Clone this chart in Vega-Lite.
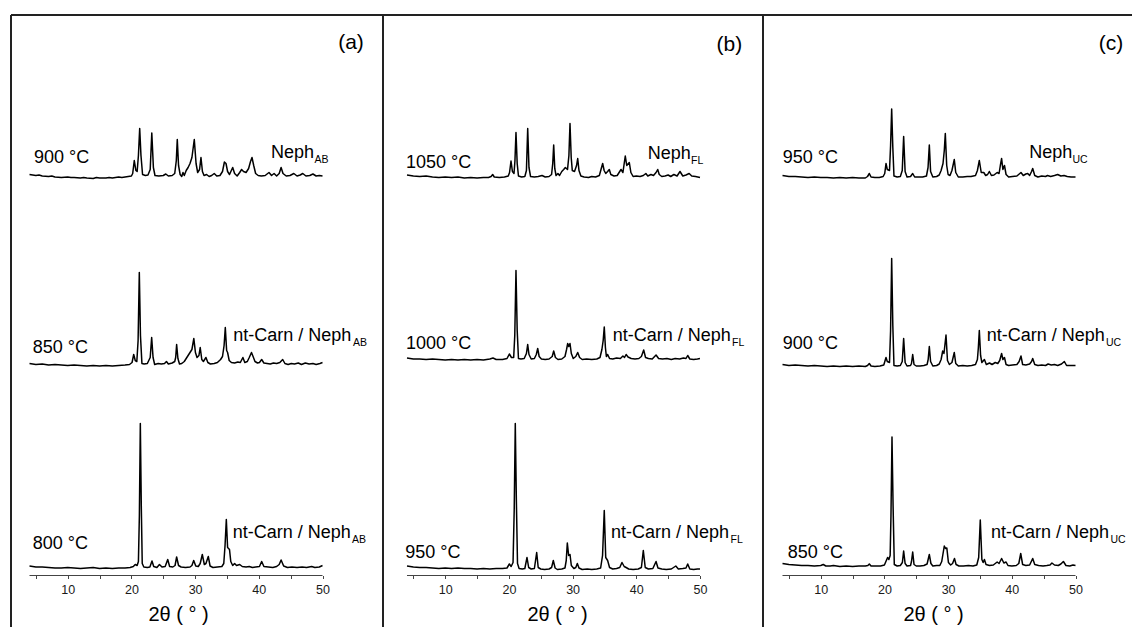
{
"$schema": "https://vega.github.io/schema/vega-lite/v6.json",
"padding": {"left": 10, "top": 14, "right": 0, "bottom": 0},
"spacing": 0,
"bounds": "flush",
"background": "white",
"config": {"view": {"stroke": null}, "font": "Liberation Sans"},
"datasets": {
"a": [
{"s":"900","t":4,"i":401},{"s":"900","t":4.5,"i":400.5},{"s":"900","t":5,"i":400},{"s":"900","t":5.5,"i":400.5},{"s":"900","t":6,"i":399.5},{"s":"900","t":7,"i":399},{"s":"900","t":7.5,"i":399.5},{"s":"900","t":8,"i":398.5},{"s":"900","t":9,"i":398},{"s":"900","t":10,"i":398.5},{"s":"900","t":10.5,"i":398},{"s":"900","t":11,"i":398},{"s":"900","t":12,"i":397.5},{"s":"900","t":12.5,"i":398},{"s":"900","t":13,"i":397.5},{"s":"900","t":14,"i":397},{"s":"900","t":14.5,"i":398},{"s":"900","t":15,"i":397.5},{"s":"900","t":16,"i":397.5},{"s":"900","t":16.5,"i":398},{"s":"900","t":17,"i":397.5},{"s":"900","t":18,"i":398.5},{"s":"900","t":18.5,"i":398},{"s":"900","t":19,"i":398.5},{"s":"900","t":19.5,"i":399},{"s":"900","t":20,"i":399.5},
{"s":"900","t":20.2,"i":402},{"s":"900","t":20.45,"i":415},{"s":"900","t":20.7,"i":405},{"s":"900","t":20.9,"i":404},{"s":"900","t":21.1,"i":420},{"s":"900","t":21.3,"i":447},{"s":"900","t":21.5,"i":420},{"s":"900","t":21.75,"i":401},{"s":"900","t":22.2,"i":400},{"s":"900","t":22.6,"i":400.5},
{"s":"900","t":22.95,"i":406},{"s":"900","t":23.2,"i":442.5},{"s":"900","t":23.45,"i":408},{"s":"900","t":23.7,"i":400},{"s":"900","t":24.3,"i":399.5},{"s":"900","t":25,"i":400},{"s":"900","t":25.4,"i":401.5},{"s":"900","t":25.8,"i":399.5},{"s":"900","t":26.4,"i":400},{"s":"900","t":26.8,"i":402},
{"s":"900","t":27.05,"i":415},{"s":"900","t":27.2,"i":436},{"s":"900","t":27.4,"i":410},{"s":"900","t":27.65,"i":401},{"s":"900","t":27.9,"i":399},{"s":"900","t":28.1,"i":403},{"s":"900","t":28.3,"i":400},{"s":"900","t":28.6,"i":405},{"s":"900","t":28.9,"i":408},{"s":"900","t":29.2,"i":412},{"s":"900","t":29.5,"i":418},{"s":"900","t":29.87,"i":436},{"s":"900","t":30.15,"i":412},{"s":"900","t":30.4,"i":403},
{"s":"900","t":30.7,"i":406},{"s":"900","t":30.92,"i":418},{"s":"900","t":31.15,"i":404},{"s":"900","t":31.4,"i":400},{"s":"900","t":31.8,"i":401},{"s":"900","t":32.2,"i":399},{"s":"900","t":32.6,"i":400},{"s":"900","t":33,"i":402},{"s":"900","t":33.4,"i":399.5},{"s":"900","t":33.9,"i":400},
{"s":"900","t":34.3,"i":404},{"s":"900","t":34.6,"i":413.5},{"s":"900","t":34.85,"i":412},{"s":"900","t":35.1,"i":404},{"s":"900","t":35.4,"i":401},{"s":"900","t":35.9,"i":408},{"s":"900","t":36.2,"i":402},{"s":"900","t":36.6,"i":399.5},{"s":"900","t":37,"i":403},{"s":"900","t":37.3,"i":406},{"s":"900","t":37.6,"i":404},{"s":"900","t":38,"i":403},{"s":"900","t":38.4,"i":407},
{"s":"900","t":38.7,"i":414},{"s":"900","t":38.93,"i":418},{"s":"900","t":39.2,"i":410},{"s":"900","t":39.5,"i":402},{"s":"900","t":39.9,"i":400},{"s":"900","t":40.4,"i":399.5},{"s":"900","t":41,"i":400},{"s":"900","t":41.6,"i":403},{"s":"900","t":42,"i":400},{"s":"900","t":42.4,"i":402},{"s":"900","t":42.8,"i":399.5},{"s":"900","t":43.2,"i":402},{"s":"900","t":43.5,"i":408},{"s":"900","t":43.8,"i":402},{"s":"900","t":44.3,"i":399.5},{"s":"900","t":44.9,"i":400},{"s":"900","t":45.5,"i":402},{"s":"900","t":46,"i":399.5},{"s":"900","t":46.5,"i":400.5},{"s":"900","t":46.9,"i":402},{"s":"900","t":47.4,"i":399.5},{"s":"900","t":48,"i":400},{"s":"900","t":48.5,"i":401.5},{"s":"900","t":49,"i":399.5},{"s":"900","t":49.5,"i":400},{"s":"900","t":50,"i":399.5},
{"s":"850","t":4,"i":212},{"s":"850","t":4.5,"i":211.5},{"s":"850","t":5,"i":211},{"s":"850","t":6,"i":211.5},{"s":"850","t":7,"i":210.5},{"s":"850","t":8,"i":211},{"s":"850","t":9,"i":210.5},{"s":"850","t":10,"i":210},{"s":"850","t":11,"i":210.5},{"s":"850","t":12,"i":210},{"s":"850","t":13,"i":209.5},{"s":"850","t":14,"i":210},{"s":"850","t":15,"i":209.5},{"s":"850","t":16,"i":210},{"s":"850","t":17,"i":209.5},{"s":"850","t":18,"i":210},{"s":"850","t":19,"i":210.5},{"s":"850","t":19.7,"i":211},{"s":"850","t":20.1,"i":213},
{"s":"850","t":20.36,"i":221},{"s":"850","t":20.6,"i":215},{"s":"850","t":20.85,"i":214},{"s":"850","t":21.05,"i":235},{"s":"850","t":21.24,"i":303},{"s":"850","t":21.42,"i":240},{"s":"850","t":21.65,"i":212},{"s":"850","t":22,"i":211.5},{"s":"850","t":22.5,"i":212},
{"s":"850","t":22.95,"i":218},{"s":"850","t":23.18,"i":238},{"s":"850","t":23.4,"i":218},{"s":"850","t":23.65,"i":211},{"s":"850","t":24.2,"i":212},{"s":"850","t":24.7,"i":211.5},{"s":"850","t":25.2,"i":212},{"s":"850","t":25.5,"i":214},{"s":"850","t":25.8,"i":211.5},{"s":"850","t":26.4,"i":212.5},{"s":"850","t":26.8,"i":214},
{"s":"850","t":26.95,"i":218},{"s":"850","t":27.1,"i":231},{"s":"850","t":27.3,"i":217},{"s":"850","t":27.55,"i":211.5},{"s":"850","t":27.9,"i":212},{"s":"850","t":28.3,"i":214},{"s":"850","t":28.6,"i":217},{"s":"850","t":28.9,"i":220},{"s":"850","t":29.2,"i":223},{"s":"850","t":29.5,"i":226},
{"s":"850","t":29.8,"i":237},{"s":"850","t":30.05,"i":223},{"s":"850","t":30.3,"i":218},{"s":"850","t":30.6,"i":220},{"s":"850","t":30.8,"i":228},{"s":"850","t":31.05,"i":216},{"s":"850","t":31.3,"i":214},{"s":"850","t":31.7,"i":218},{"s":"850","t":32,"i":213},{"s":"850","t":32.4,"i":211.5},{"s":"850","t":33,"i":212},{"s":"850","t":33.5,"i":213},{"s":"850","t":34,"i":216},{"s":"850","t":34.3,"i":219},
{"s":"850","t":34.55,"i":230},{"s":"850","t":34.74,"i":248},{"s":"850","t":34.95,"i":225},{"s":"850","t":35.1,"i":223},{"s":"850","t":35.35,"i":215},{"s":"850","t":35.7,"i":213},{"s":"850","t":36.2,"i":212.5},{"s":"850","t":36.7,"i":213.5},{"s":"850","t":37.1,"i":213},{"s":"850","t":37.5,"i":218},{"s":"850","t":37.8,"i":213},{"s":"850","t":38.2,"i":214},{"s":"850","t":38.5,"i":218},
{"s":"850","t":38.85,"i":223},{"s":"850","t":39.1,"i":219},{"s":"850","t":39.4,"i":214},{"s":"850","t":39.8,"i":212.5},{"s":"850","t":40.1,"i":213},{"s":"850","t":40.45,"i":216},{"s":"850","t":40.8,"i":212.5},{"s":"850","t":41.3,"i":212},{"s":"850","t":41.8,"i":211.5},{"s":"850","t":42.3,"i":212.5},{"s":"850","t":42.8,"i":212},{"s":"850","t":43.3,"i":213},{"s":"850","t":43.75,"i":216},{"s":"850","t":44.1,"i":212},{"s":"850","t":44.6,"i":211},{"s":"850","t":45.1,"i":212},{"s":"850","t":45.6,"i":211.5},{"s":"850","t":46.2,"i":212.5},{"s":"850","t":46.7,"i":211},{"s":"850","t":47.3,"i":212.5},{"s":"850","t":47.9,"i":211.5},{"s":"850","t":48.5,"i":212},{"s":"850","t":49,"i":211},{"s":"850","t":49.6,"i":212},{"s":"850","t":50,"i":213},
{"s":"800","t":4,"i":9.5},{"s":"800","t":4.5,"i":9},{"s":"800","t":5,"i":8.5},{"s":"800","t":6,"i":8.5},{"s":"800","t":7,"i":8},{"s":"800","t":8,"i":7.5},{"s":"800","t":9,"i":7.5},{"s":"800","t":10,"i":8},{"s":"800","t":11,"i":7.5},{"s":"800","t":12,"i":7},{"s":"800","t":13,"i":7.5},{"s":"800","t":14,"i":8},{"s":"800","t":15,"i":7},{"s":"800","t":16,"i":7.5},{"s":"800","t":17,"i":7},{"s":"800","t":18,"i":7.5},{"s":"800","t":19,"i":7.5},{"s":"800","t":19.8,"i":8},{"s":"800","t":20.3,"i":9},{"s":"800","t":20.6,"i":11},{"s":"800","t":20.9,"i":10},
{"s":"800","t":21.1,"i":14},{"s":"800","t":21.25,"i":60},{"s":"800","t":21.4,"i":152},{"s":"800","t":21.55,"i":70},{"s":"800","t":21.7,"i":12},{"s":"800","t":21.95,"i":8.5},{"s":"800","t":22.5,"i":8},{"s":"800","t":22.9,"i":8.5},{"s":"800","t":23.23,"i":14.5},{"s":"800","t":23.5,"i":9},{"s":"800","t":24,"i":8},{"s":"800","t":24.4,"i":11},{"s":"800","t":24.8,"i":8.5},{"s":"800","t":25.3,"i":9},{"s":"800","t":25.7,"i":16},{"s":"800","t":26,"i":9},{"s":"800","t":26.5,"i":8.5},{"s":"800","t":26.85,"i":10},{"s":"800","t":27.1,"i":18.5},{"s":"800","t":27.4,"i":10},{"s":"800","t":27.8,"i":8.5},{"s":"800","t":28.5,"i":8},{"s":"800","t":29.2,"i":8.5},{"s":"800","t":29.5,"i":10},{"s":"800","t":29.78,"i":15},{"s":"800","t":30.1,"i":9.5},{"s":"800","t":30.5,"i":9},{"s":"800","t":30.8,"i":12},{"s":"800","t":31.13,"i":21},{"s":"800","t":31.45,"i":11},{"s":"800","t":31.7,"i":12},{"s":"800","t":32.07,"i":19},{"s":"800","t":32.35,"i":9.5},{"s":"800","t":32.8,"i":8},{"s":"800","t":33.5,"i":8.5},{"s":"800","t":34.2,"i":9},{"s":"800","t":34.5,"i":12},
{"s":"800","t":34.7,"i":30},{"s":"800","t":34.9,"i":56},{"s":"800","t":35.1,"i":28},{"s":"800","t":35.4,"i":26},{"s":"800","t":35.6,"i":14},{"s":"800","t":35.9,"i":10},{"s":"800","t":36.2,"i":12},{"s":"800","t":36.5,"i":10},{"s":"800","t":37,"i":11},{"s":"800","t":37.4,"i":9},{"s":"800","t":38,"i":8.5},{"s":"800","t":38.5,"i":9},{"s":"800","t":39,"i":8},{"s":"800","t":39.5,"i":8.5},{"s":"800","t":40.1,"i":9},{"s":"800","t":40.45,"i":14},{"s":"800","t":40.8,"i":9},{"s":"800","t":41.5,"i":8.5},{"s":"800","t":42.2,"i":8},{"s":"800","t":42.8,"i":9},{"s":"800","t":43.2,"i":11},{"s":"800","t":43.5,"i":15.5},{"s":"800","t":43.9,"i":9.5},{"s":"800","t":44.5,"i":8},{"s":"800","t":45.2,"i":8.5},{"s":"800","t":46,"i":8},{"s":"800","t":46.8,"i":8.5},{"s":"800","t":47.5,"i":8},{"s":"800","t":48.3,"i":9},{"s":"800","t":48.8,"i":8},{"s":"800","t":49.5,"i":8.5},{"s":"800","t":50,"i":10}
],
"b": [
{"s":"1050","t":4,"i":400.5},{"s":"1050","t":4.5,"i":400},{"s":"1050","t":5,"i":399.5},{"s":"1050","t":6,"i":399},{"s":"1050","t":7,"i":399.5},{"s":"1050","t":8,"i":398.5},{"s":"1050","t":9,"i":398},{"s":"1050","t":10,"i":398.5},{"s":"1050","t":11,"i":398},{"s":"1050","t":12,"i":398.5},{"s":"1050","t":13,"i":397.5},{"s":"1050","t":14,"i":398},{"s":"1050","t":15,"i":397.5},{"s":"1050","t":16,"i":398},{"s":"1050","t":16.8,"i":398},{"s":"1050","t":17.2,"i":399},{"s":"1050","t":17.45,"i":401},{"s":"1050","t":17.7,"i":398.5},{"s":"1050","t":18.5,"i":398},{"s":"1050","t":19.3,"i":398.5},{"s":"1050","t":19.9,"i":399.5},
{"s":"1050","t":20.1,"i":403},{"s":"1050","t":20.33,"i":414.5},{"s":"1050","t":20.55,"i":404},{"s":"1050","t":20.8,"i":402},{"s":"1050","t":20.95,"i":415},{"s":"1050","t":21.11,"i":443},{"s":"1050","t":21.3,"i":412},{"s":"1050","t":21.5,"i":399.5},{"s":"1050","t":22,"i":398.5},{"s":"1050","t":22.5,"i":399},
{"s":"1050","t":22.75,"i":405},{"s":"1050","t":22.95,"i":447},{"s":"1050","t":23.15,"i":408},{"s":"1050","t":23.4,"i":399},{"s":"1050","t":24,"i":398.5},{"s":"1050","t":24.6,"i":399},{"s":"1050","t":25.2,"i":400},{"s":"1050","t":25.7,"i":398.5},{"s":"1050","t":26.3,"i":399},{"s":"1050","t":26.7,"i":401},
{"s":"1050","t":26.88,"i":412},{"s":"1050","t":27.03,"i":430.5},{"s":"1050","t":27.2,"i":407},{"s":"1050","t":27.4,"i":400},{"s":"1050","t":27.7,"i":402},{"s":"1050","t":27.95,"i":400},{"s":"1050","t":28.3,"i":404},{"s":"1050","t":28.6,"i":406},{"s":"1050","t":28.86,"i":408},
{"s":"1050","t":29.2,"i":406},{"s":"1050","t":29.42,"i":420},{"s":"1050","t":29.59,"i":452},{"s":"1050","t":29.78,"i":418},{"s":"1050","t":29.95,"i":405},{"s":"1050","t":30.3,"i":404},{"s":"1050","t":30.62,"i":410},{"s":"1050","t":30.8,"i":417},{"s":"1050","t":31,"i":405},{"s":"1050","t":31.3,"i":399.5},{"s":"1050","t":31.8,"i":398.5},{"s":"1050","t":32.5,"i":398},{"s":"1050","t":33,"i":399},{"s":"1050","t":33.6,"i":398.5},{"s":"1050","t":34.2,"i":400},
{"s":"1050","t":34.5,"i":407},{"s":"1050","t":34.72,"i":412},{"s":"1050","t":34.95,"i":405},{"s":"1050","t":35.2,"i":402},{"s":"1050","t":35.5,"i":404},{"s":"1050","t":35.76,"i":406},{"s":"1050","t":36,"i":401},{"s":"1050","t":36.5,"i":399.5},{"s":"1050","t":37,"i":400},{"s":"1050","t":37.3,"i":403},{"s":"1050","t":37.6,"i":406},{"s":"1050","t":37.9,"i":403},
{"s":"1050","t":38.1,"i":412},{"s":"1050","t":38.27,"i":419.5},{"s":"1050","t":38.5,"i":410},{"s":"1050","t":38.9,"i":413},{"s":"1050","t":39.15,"i":403},{"s":"1050","t":39.5,"i":399},{"s":"1050","t":40,"i":399.5},{"s":"1050","t":40.6,"i":399},{"s":"1050","t":41.1,"i":400},{"s":"1050","t":41.5,"i":402},{"s":"1050","t":41.8,"i":399.5},{"s":"1050","t":42.3,"i":401},{"s":"1050","t":42.7,"i":400},{"s":"1050","t":43.1,"i":403},{"s":"1050","t":43.36,"i":406},{"s":"1050","t":43.6,"i":401},{"s":"1050","t":44,"i":399},{"s":"1050","t":44.5,"i":399.5},{"s":"1050","t":45,"i":400.5},{"s":"1050","t":45.4,"i":399},{"s":"1050","t":45.9,"i":401},{"s":"1050","t":46.4,"i":399.5},{"s":"1050","t":46.86,"i":404},{"s":"1050","t":47.3,"i":399.5},{"s":"1050","t":47.8,"i":400.5},{"s":"1050","t":48.3,"i":402},{"s":"1050","t":48.7,"i":399.5},{"s":"1050","t":49.3,"i":399},{"s":"1050","t":50,"i":398},
{"s":"1000","t":4,"i":217.5},{"s":"1000","t":4.5,"i":217},{"s":"1000","t":5,"i":216.5},{"s":"1000","t":6,"i":216.5},{"s":"1000","t":7,"i":216},{"s":"1000","t":8,"i":216.5},{"s":"1000","t":9,"i":216},{"s":"1000","t":10,"i":215.5},{"s":"1000","t":11,"i":216},{"s":"1000","t":12,"i":215.5},{"s":"1000","t":13,"i":216},{"s":"1000","t":14,"i":215.5},{"s":"1000","t":15,"i":216},{"s":"1000","t":16,"i":215.5},{"s":"1000","t":17,"i":216.5},{"s":"1000","t":17.5,"i":217.5},{"s":"1000","t":18,"i":216},{"s":"1000","t":19,"i":216},{"s":"1000","t":19.7,"i":217},
{"s":"1000","t":20.07,"i":221.5},{"s":"1000","t":20.4,"i":218},{"s":"1000","t":20.75,"i":218},{"s":"1000","t":20.92,"i":240},{"s":"1000","t":21.11,"i":305},{"s":"1000","t":21.3,"i":245},{"s":"1000","t":21.5,"i":217},{"s":"1000","t":21.9,"i":216.5},{"s":"1000","t":22.4,"i":217},
{"s":"1000","t":22.75,"i":222},{"s":"1000","t":22.95,"i":231},{"s":"1000","t":23.15,"i":221},{"s":"1000","t":23.5,"i":216.5},{"s":"1000","t":24,"i":217},{"s":"1000","t":24.3,"i":221},{"s":"1000","t":24.52,"i":227},{"s":"1000","t":24.75,"i":219},{"s":"1000","t":25.1,"i":216.5},{"s":"1000","t":25.7,"i":216},{"s":"1000","t":26.3,"i":216.5},{"s":"1000","t":26.8,"i":219},{"s":"1000","t":27.03,"i":224.5},{"s":"1000","t":27.3,"i":218},{"s":"1000","t":27.7,"i":216},{"s":"1000","t":28.3,"i":216.5},{"s":"1000","t":28.8,"i":219},
{"s":"1000","t":29.05,"i":226},{"s":"1000","t":29.23,"i":232},{"s":"1000","t":29.4,"i":229},{"s":"1000","t":29.59,"i":232},{"s":"1000","t":29.8,"i":222},{"s":"1000","t":30.1,"i":217},{"s":"1000","t":30.5,"i":219},{"s":"1000","t":30.8,"i":223},{"s":"1000","t":31.1,"i":218},{"s":"1000","t":31.5,"i":216},{"s":"1000","t":32.2,"i":216.5},{"s":"1000","t":33,"i":216},{"s":"1000","t":33.8,"i":216.5},{"s":"1000","t":34.3,"i":218},{"s":"1000","t":34.6,"i":226},
{"s":"1000","t":34.8,"i":235},{"s":"1000","t":34.97,"i":248.5},{"s":"1000","t":35.15,"i":228},{"s":"1000","t":35.3,"i":219},{"s":"1000","t":35.5,"i":221},{"s":"1000","t":35.8,"i":217},{"s":"1000","t":36.3,"i":216.5},{"s":"1000","t":36.9,"i":217.5},{"s":"1000","t":37.5,"i":217},{"s":"1000","t":37.9,"i":219.5},{"s":"1000","t":38.15,"i":218},{"s":"1000","t":38.4,"i":221},{"s":"1000","t":38.7,"i":218.5},{"s":"1000","t":39.2,"i":217},{"s":"1000","t":39.8,"i":216.5},{"s":"1000","t":40.4,"i":217},{"s":"1000","t":40.8,"i":219},{"s":"1000","t":41.16,"i":225.5},{"s":"1000","t":41.45,"i":218},{"s":"1000","t":41.9,"i":217},{"s":"1000","t":42.5,"i":216.5},{"s":"1000","t":43.1,"i":220.5},{"s":"1000","t":43.5,"i":217},{"s":"1000","t":44.1,"i":216.5},{"s":"1000","t":44.8,"i":217},{"s":"1000","t":45.5,"i":216},{"s":"1000","t":46.1,"i":217},{"s":"1000","t":46.8,"i":216.5},{"s":"1000","t":47.4,"i":217.5},{"s":"1000","t":47.8,"i":217},{"s":"1000","t":48.07,"i":220},{"s":"1000","t":48.4,"i":216.5},{"s":"1000","t":49,"i":216},{"s":"1000","t":49.6,"i":216.5},{"s":"1000","t":50,"i":217},
{"s":"950","t":4,"i":9.5},{"s":"950","t":4.5,"i":9},{"s":"950","t":5,"i":8.5},{"s":"950","t":6,"i":8},{"s":"950","t":7,"i":8},{"s":"950","t":8,"i":7.5},{"s":"950","t":9,"i":7},{"s":"950","t":10,"i":7.5},{"s":"950","t":11,"i":7},{"s":"950","t":12,"i":7.5},{"s":"950","t":13,"i":7},{"s":"950","t":14,"i":7},{"s":"950","t":15,"i":6.5},{"s":"950","t":16,"i":7},{"s":"950","t":17,"i":6.5},{"s":"950","t":18,"i":7},{"s":"950","t":19,"i":7},{"s":"950","t":19.7,"i":7.5},
{"s":"950","t":20.07,"i":11.5},{"s":"950","t":20.35,"i":9},{"s":"950","t":20.65,"i":13},{"s":"950","t":20.83,"i":65},{"s":"950","t":21,"i":152},{"s":"950","t":21.17,"i":75},{"s":"950","t":21.35,"i":12},{"s":"950","t":21.6,"i":7},{"s":"950","t":22.1,"i":6.5},{"s":"950","t":22.5,"i":7},
{"s":"950","t":22.84,"i":18},{"s":"950","t":23.1,"i":8},{"s":"950","t":23.5,"i":6.5},{"s":"950","t":24,"i":7},{"s":"950","t":24.36,"i":23},{"s":"950","t":24.6,"i":8},{"s":"950","t":25,"i":6.5},{"s":"950","t":25.6,"i":6},{"s":"950","t":26.3,"i":6.5},{"s":"950","t":26.7,"i":8},{"s":"950","t":26.97,"i":15},{"s":"950","t":27.25,"i":7.5},{"s":"950","t":27.6,"i":6},{"s":"950","t":28.3,"i":6.5},{"s":"950","t":28.8,"i":7.5},{"s":"950","t":29,"i":15},{"s":"950","t":29.17,"i":32.5},{"s":"950","t":29.38,"i":20},{"s":"950","t":29.59,"i":21},{"s":"950","t":29.8,"i":10},{"s":"950","t":30.2,"i":7},{"s":"950","t":30.5,"i":8},{"s":"950","t":30.74,"i":12},{"s":"950","t":31,"i":7.5},{"s":"950","t":31.5,"i":6},{"s":"950","t":32.3,"i":6.5},{"s":"950","t":33,"i":6},{"s":"950","t":33.8,"i":6.5},{"s":"950","t":34.4,"i":7.5},{"s":"950","t":34.7,"i":20},
{"s":"950","t":34.97,"i":65},{"s":"950","t":35.2,"i":18},{"s":"950","t":35.5,"i":15},{"s":"950","t":35.8,"i":8},{"s":"950","t":36.3,"i":6.5},{"s":"950","t":36.9,"i":7},{"s":"950","t":37.4,"i":8},{"s":"950","t":37.75,"i":13},{"s":"950","t":38.1,"i":9},{"s":"950","t":38.4,"i":8},{"s":"950","t":38.8,"i":6.5},{"s":"950","t":39.5,"i":6},{"s":"950","t":40.3,"i":6.5},{"s":"950","t":40.8,"i":8},{"s":"950","t":41.1,"i":25},{"s":"950","t":41.4,"i":8},{"s":"950","t":41.9,"i":6.5},{"s":"950","t":42.6,"i":7},{"s":"950","t":43.1,"i":14},{"s":"950","t":43.4,"i":7.5},{"s":"950","t":44,"i":6.5},{"s":"950","t":44.7,"i":6},{"s":"950","t":45.5,"i":6.5},{"s":"950","t":46.2,"i":9.5},{"s":"950","t":46.6,"i":6.5},{"s":"950","t":47.3,"i":7},{"s":"950","t":47.8,"i":7.5},{"s":"950","t":48.07,"i":11.5},{"s":"950","t":48.4,"i":6.5},{"s":"950","t":49,"i":6},{"s":"950","t":49.6,"i":6.5},{"s":"950","t":50,"i":6.5}
],
"c": [
{"s":"950","t":4,"i":400},{"s":"950","t":4.5,"i":399.5},{"s":"950","t":5,"i":399},{"s":"950","t":6,"i":399},{"s":"950","t":7,"i":398.5},{"s":"950","t":8,"i":398},{"s":"950","t":9,"i":398.5},{"s":"950","t":10,"i":398},{"s":"950","t":11,"i":398},{"s":"950","t":12,"i":397.5},{"s":"950","t":13,"i":398},{"s":"950","t":14,"i":397.5},{"s":"950","t":15,"i":398},{"s":"950","t":16,"i":397.5},{"s":"950","t":17,"i":397.5},{"s":"950","t":17.35,"i":399},{"s":"950","t":17.63,"i":402},{"s":"950","t":17.9,"i":398.5},{"s":"950","t":18.5,"i":398},{"s":"950","t":19.2,"i":398},{"s":"950","t":19.8,"i":399},{"s":"950","t":20.05,"i":402},
{"s":"950","t":20.25,"i":412},{"s":"950","t":20.45,"i":406},{"s":"950","t":20.8,"i":405},{"s":"950","t":20.97,"i":430},{"s":"950","t":21.14,"i":466.5},{"s":"950","t":21.32,"i":428},{"s":"950","t":21.5,"i":399.5},{"s":"950","t":22,"i":398.5},{"s":"950","t":22.5,"i":399},
{"s":"950","t":22.8,"i":405},{"s":"950","t":23.02,"i":439},{"s":"950","t":23.25,"i":404},{"s":"950","t":23.55,"i":398.5},{"s":"950","t":24.1,"i":399},{"s":"950","t":24.44,"i":402},{"s":"950","t":24.75,"i":398.5},{"s":"950","t":25.3,"i":398.5},{"s":"950","t":26,"i":398.5},{"s":"950","t":26.6,"i":399.5},
{"s":"950","t":26.85,"i":408},{"s":"950","t":27.05,"i":430.5},{"s":"950","t":27.25,"i":404},{"s":"950","t":27.6,"i":398.5},{"s":"950","t":28.2,"i":399},{"s":"950","t":28.6,"i":400.5},{"s":"950","t":28.9,"i":405},{"s":"950","t":29.2,"i":412},
{"s":"950","t":29.4,"i":425},{"s":"950","t":29.56,"i":442},{"s":"950","t":29.78,"i":410},{"s":"950","t":30,"i":401},{"s":"950","t":30.3,"i":400},{"s":"950","t":30.6,"i":405},{"s":"950","t":30.97,"i":416},{"s":"950","t":31.2,"i":403},{"s":"950","t":31.6,"i":398.5},{"s":"950","t":32.3,"i":398.5},{"s":"950","t":33,"i":399},{"s":"950","t":33.6,"i":399},{"s":"950","t":34.3,"i":400},{"s":"950","t":34.6,"i":405},
{"s":"950","t":34.9,"i":415},{"s":"950","t":35.2,"i":403},{"s":"950","t":35.6,"i":403},{"s":"950","t":35.9,"i":400},{"s":"950","t":36.2,"i":401},{"s":"950","t":36.47,"i":404},{"s":"950","t":36.8,"i":400},{"s":"950","t":37.2,"i":400.5},{"s":"950","t":37.7,"i":403},{"s":"950","t":38,"i":402},
{"s":"950","t":38.2,"i":410},{"s":"950","t":38.4,"i":417},{"s":"950","t":38.6,"i":406},{"s":"950","t":38.85,"i":410},{"s":"950","t":39.1,"i":401},{"s":"950","t":39.5,"i":398.5},{"s":"950","t":40.1,"i":399},{"s":"950","t":40.8,"i":399.5},{"s":"950","t":41.44,"i":403},{"s":"950","t":41.8,"i":400},{"s":"950","t":42.2,"i":401.5},{"s":"950","t":42.5,"i":402},{"s":"950","t":42.8,"i":400},{"s":"950","t":43.1,"i":404},{"s":"950","t":43.28,"i":407},{"s":"950","t":43.6,"i":400},{"s":"950","t":44.1,"i":398.5},{"s":"950","t":44.7,"i":399.5},{"s":"950","t":45.3,"i":399},{"s":"950","t":45.6,"i":400},{"s":"950","t":46.1,"i":399},{"s":"950","t":46.7,"i":400},{"s":"950","t":47.2,"i":401},{"s":"950","t":47.7,"i":399.5},{"s":"950","t":48.2,"i":400},{"s":"950","t":48.7,"i":399},{"s":"950","t":49.3,"i":398.5},{"s":"950","t":50,"i":398.5},
{"s":"900","t":4,"i":211},{"s":"900","t":4.5,"i":210.5},{"s":"900","t":5,"i":210},{"s":"900","t":6,"i":210.5},{"s":"900","t":7,"i":210},{"s":"900","t":8,"i":209.5},{"s":"900","t":9,"i":210},{"s":"900","t":10,"i":209.5},{"s":"900","t":11,"i":209},{"s":"900","t":12,"i":209.5},{"s":"900","t":13,"i":209},{"s":"900","t":14,"i":209.5},{"s":"900","t":15,"i":209},{"s":"900","t":16,"i":209.5},{"s":"900","t":17,"i":209},{"s":"900","t":17.35,"i":210},{"s":"900","t":17.63,"i":212},{"s":"900","t":17.9,"i":209.5},{"s":"900","t":18.5,"i":209},{"s":"900","t":19.3,"i":209.5},{"s":"900","t":19.9,"i":210.5},
{"s":"900","t":20.25,"i":218},{"s":"900","t":20.45,"i":214},{"s":"900","t":20.8,"i":213},{"s":"900","t":20.97,"i":245},{"s":"900","t":21.14,"i":317},{"s":"900","t":21.32,"i":250},{"s":"900","t":21.5,"i":210},{"s":"900","t":22,"i":209.5},{"s":"900","t":22.5,"i":210},
{"s":"900","t":22.8,"i":214},{"s":"900","t":23.02,"i":237},{"s":"900","t":23.25,"i":213},{"s":"900","t":23.55,"i":209.5},{"s":"900","t":24.1,"i":210},{"s":"900","t":24.25,"i":212},{"s":"900","t":24.44,"i":221},{"s":"900","t":24.65,"i":211},{"s":"900","t":25,"i":209.5},{"s":"900","t":25.6,"i":209.5},{"s":"900","t":26.2,"i":210},{"s":"900","t":26.7,"i":211},
{"s":"900","t":26.87,"i":216},{"s":"900","t":27.05,"i":229},{"s":"900","t":27.25,"i":214},{"s":"900","t":27.6,"i":209.5},{"s":"900","t":28.2,"i":210},{"s":"900","t":28.6,"i":211.5},{"s":"900","t":28.9,"i":216},{"s":"900","t":29.15,"i":224.5},{"s":"900","t":29.35,"i":222},
{"s":"900","t":29.67,"i":240.5},{"s":"900","t":29.9,"i":215},{"s":"900","t":30.2,"i":211},{"s":"900","t":30.6,"i":213},{"s":"900","t":30.97,"i":223},{"s":"900","t":31.2,"i":212},{"s":"900","t":31.6,"i":209.5},{"s":"900","t":32.3,"i":210},{"s":"900","t":33,"i":209.5},{"s":"900","t":33.7,"i":210},{"s":"900","t":34.3,"i":211},{"s":"900","t":34.6,"i":216},
{"s":"900","t":34.75,"i":228},{"s":"900","t":34.9,"i":245},{"s":"900","t":35.1,"i":220},{"s":"900","t":35.3,"i":213},{"s":"900","t":35.7,"i":216},{"s":"900","t":36,"i":211},{"s":"900","t":36.5,"i":212.5},{"s":"900","t":36.9,"i":211},{"s":"900","t":37.4,"i":213},{"s":"900","t":37.8,"i":212},{"s":"900","t":38.1,"i":215},
{"s":"900","t":38.4,"i":222},{"s":"900","t":38.6,"i":216},{"s":"900","t":38.85,"i":218},{"s":"900","t":39.1,"i":211},{"s":"900","t":39.5,"i":210},{"s":"900","t":40.1,"i":210.5},{"s":"900","t":40.8,"i":211},{"s":"900","t":41.15,"i":214},{"s":"900","t":41.44,"i":219.5},{"s":"900","t":41.7,"i":211},{"s":"900","t":42.2,"i":210.5},{"s":"900","t":42.8,"i":211.5},{"s":"900","t":43.1,"i":214},{"s":"900","t":43.28,"i":217},{"s":"900","t":43.6,"i":211},{"s":"900","t":44.1,"i":210},{"s":"900","t":44.7,"i":210.5},{"s":"900","t":45.3,"i":210},{"s":"900","t":45.7,"i":211.5},{"s":"900","t":46.2,"i":210.5},{"s":"900","t":46.7,"i":211},{"s":"900","t":47.2,"i":210},{"s":"900","t":47.8,"i":211.5},{"s":"900","t":48.25,"i":214},{"s":"900","t":48.6,"i":210},{"s":"900","t":49.3,"i":210},{"s":"900","t":50,"i":210},
{"s":"850","t":4,"i":12},{"s":"850","t":4.5,"i":11.5},{"s":"850","t":5,"i":11},{"s":"850","t":6,"i":10.5},{"s":"850","t":7,"i":10},{"s":"850","t":8,"i":10},{"s":"850","t":9,"i":9.5},{"s":"850","t":10,"i":10},{"s":"850","t":10.4,"i":11},{"s":"850","t":10.8,"i":9.5},{"s":"850","t":11.5,"i":9.5},{"s":"850","t":12,"i":10},{"s":"850","t":13,"i":9},{"s":"850","t":14,"i":9.5},{"s":"850","t":15,"i":9},{"s":"850","t":16,"i":9.5},{"s":"850","t":17,"i":9.5},{"s":"850","t":17.4,"i":10},{"s":"850","t":17.63,"i":11.5},{"s":"850","t":17.9,"i":9.5},{"s":"850","t":18.6,"i":9.5},{"s":"850","t":19.4,"i":9.5},{"s":"850","t":20,"i":10.5},{"s":"850","t":20.3,"i":15},
{"s":"850","t":20.5,"i":18},{"s":"850","t":20.7,"i":16},{"s":"850","t":20.9,"i":20},{"s":"850","t":21.03,"i":60},{"s":"850","t":21.19,"i":138.5},{"s":"850","t":21.36,"i":70},{"s":"850","t":21.55,"i":11},{"s":"850","t":22,"i":9.5},{"s":"850","t":22.5,"i":10},
{"s":"850","t":22.82,"i":13},{"s":"850","t":23.02,"i":24.5},{"s":"850","t":23.25,"i":12},{"s":"850","t":23.55,"i":9.5},{"s":"850","t":24.1,"i":10},{"s":"850","t":24.25,"i":14},{"s":"850","t":24.44,"i":23.5},{"s":"850","t":24.65,"i":11},{"s":"850","t":25,"i":9.5},{"s":"850","t":25.6,"i":9.5},{"s":"850","t":26.2,"i":10},{"s":"850","t":26.7,"i":11.5},{"s":"850","t":27.05,"i":21},{"s":"850","t":27.3,"i":12},{"s":"850","t":27.6,"i":9.5},{"s":"850","t":28.2,"i":10},{"s":"850","t":28.7,"i":10},{"s":"850","t":29,"i":14},
{"s":"850","t":29.4,"i":29.5},{"s":"850","t":29.6,"i":27},{"s":"850","t":29.8,"i":27.5},{"s":"850","t":30.05,"i":13},{"s":"850","t":30.4,"i":10.5},{"s":"850","t":30.7,"i":12},{"s":"850","t":31,"i":17},{"s":"850","t":31.25,"i":11},{"s":"850","t":31.7,"i":9.5},{"s":"850","t":32.4,"i":9.5},{"s":"850","t":33.2,"i":10},{"s":"850","t":33.9,"i":9.5},{"s":"850","t":34.5,"i":10.5},{"s":"850","t":34.8,"i":18},
{"s":"850","t":35.05,"i":55.5},{"s":"850","t":35.3,"i":16},{"s":"850","t":35.5,"i":13},{"s":"850","t":35.7,"i":16},{"s":"850","t":35.95,"i":11},{"s":"850","t":36.5,"i":10},{"s":"850","t":37.1,"i":10.5},{"s":"850","t":37.7,"i":13.5},{"s":"850","t":38,"i":12},{"s":"850","t":38.4,"i":17},{"s":"850","t":38.75,"i":12.5},{"s":"850","t":39.1,"i":13.5},{"s":"850","t":39.4,"i":10},{"s":"850","t":40,"i":9.5},{"s":"850","t":40.7,"i":10},{"s":"850","t":41.1,"i":12},{"s":"850","t":41.4,"i":22},{"s":"850","t":41.7,"i":11},{"s":"850","t":42.2,"i":10},{"s":"850","t":42.8,"i":10.5},{"s":"850","t":43.28,"i":17},{"s":"850","t":43.6,"i":11},{"s":"850","t":44.2,"i":10},{"s":"850","t":44.9,"i":9.5},{"s":"850","t":45.5,"i":10},{"s":"850","t":46,"i":10.5},{"s":"850","t":46.3,"i":12.5},{"s":"850","t":46.7,"i":10.5},{"s":"850","t":47.3,"i":10},{"s":"850","t":47.7,"i":11.5},{"s":"850","t":48.1,"i":14},{"s":"850","t":48.5,"i":10},{"s":"850","t":49.1,"i":9.5},{"s":"850","t":49.6,"i":10.5},{"s":"850","t":50,"i":10}
],
"la": [
{"t":54.47,"i":532.5,"txt":"(a)","k":"p"},
{"t":4.7,"i":412.5,"txt":"900 °C","k":"m"},
{"t":41.9,"i":417.8,"txt":"Neph","k":"m"},
{"t":48.74,"i":412.8,"txt":"AB","k":"s"},
{"t":4.5,"i":222.8,"txt":"850 °C","k":"m"},
{"t":36.0,"i":234.5,"txt":"nt-Carn / Neph","k":"m"},
{"t":54.79,"i":229.5,"txt":"AB","k":"s"},
{"t":4.5,"i":26.2,"txt":"800 °C","k":"m"},
{"t":35.9,"i":37.8,"txt":"nt-Carn / Neph","k":"m"},
{"t":54.63,"i":32.8,"txt":"AB","k":"s"}
],
"lb": [
{"t":54.6,"i":531,"txt":"(b)","k":"p"},
{"t":3.84,"i":407.8,"txt":"1050 °C","k":"m"},
{"t":41.79,"i":416.2,"txt":"Neph","k":"m"},
{"t":48.59,"i":411.2,"txt":"FL","k":"s"},
{"t":3.84,"i":226.2,"txt":"1000 °C","k":"m"},
{"t":36.29,"i":234.5,"txt":"nt-Carn / Neph","k":"m"},
{"t":55.02,"i":229.5,"txt":"FL","k":"s"},
{"t":3.73,"i":17.8,"txt":"950 °C","k":"m"},
{"t":36.03,"i":37.8,"txt":"nt-Carn / Neph","k":"m"},
{"t":54.79,"i":32.8,"txt":"FL","k":"s"}
],
"lc": [
{"t":55.57,"i":531.5,"txt":"(c)","k":"p"},
{"t":4.03,"i":412.8,"txt":"950 °C","k":"m"},
{"t":42.75,"i":417.8,"txt":"Neph","k":"m"},
{"t":49.53,"i":412.8,"txt":"UC","k":"s"},
{"t":4.03,"i":226.2,"txt":"900 °C","k":"m"},
{"t":36.06,"i":234.5,"txt":"nt-Carn / Neph","k":"m"},
{"t":54.77,"i":229.5,"txt":"UC","k":"s"},
{"t":4.82,"i":17.8,"txt":"850 °C","k":"m"},
{"t":36.73,"i":37.8,"txt":"nt-Carn / Neph","k":"m"},
{"t":55.49,"i":32.8,"txt":"UC","k":"s"}
]
},
"hconcat": [
{
"width": 372, "height": 613,
"layer": [
{"data": {"name": "a"}, "mark": {"type": "line", "color": "#000", "strokeWidth": 1.5, "strokeJoin": "round"},
 "encoding": {
  "x": {"field": "t", "type": "quantitative", "scale": {"domain": [1.0956, 59.498], "nice": false, "zero": false},
   "axis": {"values": [5,10,15,20,25,30,35,40,45,50], "labelExpr": "datum.value % 10 === 0 ? datum.label : ''", "domain": false, "grid": false, "offset": -52.5, "tickSize": 3, "tickColor": "#444", "labelFont": "Liberation Sans", "labelFontSize": 12.5, "labelColor": "#1a1a1a", "labelPadding": 5, "labelFlush": false, "labelOverlap": false, "title": "2θ ( ° )", "titleFont": "Liberation Sans", "titleFontSize": 20, "titleFontWeight": "normal", "titleColor": "#000", "titleX": 167, "titleY": 45, "titleBaseline": "alphabetic", "titleAlign": "center"}},
  "y": {"field": "i", "type": "quantitative", "scale": {"domain": [-52.5, 560.5], "nice": false, "zero": false}, "axis": null},
  "detail": {"field": "s"}}},
{"data": {"values": [{}]}, "mark": {"type": "rule", "color": "#444", "strokeWidth": 1}, "encoding": {"x": {"datum": 4, "type": "quantitative"}, "x2": {"datum": 50}, "y": {"datum": 0, "type": "quantitative", "axis": null}}},
{"data": {"values": [{}]}, "mark": {"type": "rule", "color": "#222", "strokeWidth": 2}, "encoding": {"x": {"datum": 1.0956, "type": "quantitative"}}},
{"data": {"values": [{}]}, "mark": {"type": "rule", "color": "#222", "strokeWidth": 2}, "encoding": {"y": {"datum": 560.5, "type": "quantitative", "axis": null}}},
{"data": {"name": "la"}, "transform": [{"filter": "datum.k === 'm'"}], "mark": {"type": "text", "align": "left", "baseline": "alphabetic", "font": "Liberation Sans", "fontSize": 18, "color": "#000"}, "encoding": {"x": {"field": "t", "type": "quantitative"}, "y": {"field": "i", "type": "quantitative", "axis": null}, "text": {"field": "txt"}}},
{"data": {"name": "la"}, "transform": [{"filter": "datum.k === 's'"}], "mark": {"type": "text", "align": "left", "baseline": "alphabetic", "font": "Liberation Sans", "fontSize": 10.5, "color": "#000"}, "encoding": {"x": {"field": "t", "type": "quantitative"}, "y": {"field": "i", "type": "quantitative", "axis": null}, "text": {"field": "txt"}}},
{"data": {"name": "la"}, "transform": [{"filter": "datum.k === 'p'"}], "mark": {"type": "text", "align": "center", "baseline": "middle", "font": "Liberation Sans", "fontSize": 21, "color": "#000"}, "encoding": {"x": {"field": "t", "type": "quantitative"}, "y": {"field": "i", "type": "quantitative", "axis": null}, "text": {"field": "txt"}}}
]
},
{
"width": 380, "height": 613,
"layer": [
{"data": {"name": "b"}, "mark": {"type": "line", "color": "#000", "strokeWidth": 1.5, "strokeJoin": "round"},
 "encoding": {
  "x": {"field": "t", "type": "quantitative", "scale": {"domain": [0.2321, 59.891], "nice": false, "zero": false},
   "axis": {"values": [5,10,15,20,25,30,35,40,45,50], "labelExpr": "datum.value % 10 === 0 ? datum.label : ''", "domain": false, "grid": false, "offset": -52.5, "tickSize": 3, "tickColor": "#444", "labelFont": "Liberation Sans", "labelFontSize": 12.5, "labelColor": "#1a1a1a", "labelPadding": 5, "labelFlush": false, "labelOverlap": false, "title": "2θ ( ° )", "titleFont": "Liberation Sans", "titleFontSize": 20, "titleFontWeight": "normal", "titleColor": "#000", "titleX": 174, "titleY": 45, "titleBaseline": "alphabetic", "titleAlign": "center"}},
  "y": {"field": "i", "type": "quantitative", "scale": {"domain": [-52.5, 560.5], "nice": false, "zero": false}, "axis": null},
  "detail": {"field": "s"}}},
{"data": {"values": [{}]}, "mark": {"type": "rule", "color": "#444", "strokeWidth": 1}, "encoding": {"x": {"datum": 4, "type": "quantitative"}, "x2": {"datum": 50}, "y": {"datum": 0, "type": "quantitative", "axis": null}}},
{"data": {"values": [{}]}, "mark": {"type": "rule", "color": "#222", "strokeWidth": 2}, "encoding": {"x": {"datum": 0.2321, "type": "quantitative"}}},
{"data": {"values": [{}]}, "mark": {"type": "rule", "color": "#222", "strokeWidth": 2}, "encoding": {"y": {"datum": 560.5, "type": "quantitative", "axis": null}}},
{"data": {"name": "lb"}, "transform": [{"filter": "datum.k === 'm'"}], "mark": {"type": "text", "align": "left", "baseline": "alphabetic", "font": "Liberation Sans", "fontSize": 18, "color": "#000"}, "encoding": {"x": {"field": "t", "type": "quantitative"}, "y": {"field": "i", "type": "quantitative", "axis": null}, "text": {"field": "txt"}}},
{"data": {"name": "lb"}, "transform": [{"filter": "datum.k === 's'"}], "mark": {"type": "text", "align": "left", "baseline": "alphabetic", "font": "Liberation Sans", "fontSize": 10.5, "color": "#000"}, "encoding": {"x": {"field": "t", "type": "quantitative"}, "y": {"field": "i", "type": "quantitative", "axis": null}, "text": {"field": "txt"}}},
{"data": {"name": "lb"}, "transform": [{"filter": "datum.k === 'p'"}], "mark": {"type": "text", "align": "center", "baseline": "middle", "font": "Liberation Sans", "fontSize": 21, "color": "#000"}, "encoding": {"x": {"field": "t", "type": "quantitative"}, "y": {"field": "i", "type": "quantitative", "axis": null}, "text": {"field": "txt"}}}
]
},
{
"width": 370, "height": 613,
"layer": [
{"data": {"name": "c"}, "mark": {"type": "line", "color": "#000", "strokeWidth": 1.5, "strokeJoin": "round"},
 "encoding": {
  "x": {"field": "t", "type": "quantitative", "scale": {"domain": [0.9386, 59.027], "nice": false, "zero": false},
   "axis": {"values": [5,10,15,20,25,30,35,40,45,50], "labelExpr": "datum.value % 10 === 0 ? datum.label : ''", "domain": false, "grid": false, "offset": -52.5, "tickSize": 3, "tickColor": "#444", "labelFont": "Liberation Sans", "labelFontSize": 12.5, "labelColor": "#1a1a1a", "labelPadding": 5, "labelFlush": false, "labelOverlap": false, "title": "2θ ( ° )", "titleFont": "Liberation Sans", "titleFontSize": 20, "titleFontWeight": "normal", "titleColor": "#000", "titleX": 170, "titleY": 45, "titleBaseline": "alphabetic", "titleAlign": "center"}},
  "y": {"field": "i", "type": "quantitative", "scale": {"domain": [-52.5, 560.5], "nice": false, "zero": false}, "axis": null},
  "detail": {"field": "s"}}},
{"data": {"values": [{}]}, "mark": {"type": "rule", "color": "#444", "strokeWidth": 1}, "encoding": {"x": {"datum": 4, "type": "quantitative"}, "x2": {"datum": 50}, "y": {"datum": 0, "type": "quantitative", "axis": null}}},
{"data": {"values": [{}]}, "mark": {"type": "rule", "color": "#222", "strokeWidth": 2}, "encoding": {"x": {"datum": 0.9386, "type": "quantitative"}}},
{"data": {"values": [{}]}, "mark": {"type": "rule", "color": "#222", "strokeWidth": 2}, "encoding": {"y": {"datum": 560.5, "type": "quantitative", "axis": null}}},
{"data": {"name": "lc"}, "transform": [{"filter": "datum.k === 'm'"}], "mark": {"type": "text", "align": "left", "baseline": "alphabetic", "font": "Liberation Sans", "fontSize": 18, "color": "#000", "clip": true}, "encoding": {"x": {"field": "t", "type": "quantitative"}, "y": {"field": "i", "type": "quantitative", "axis": null}, "text": {"field": "txt"}}},
{"data": {"name": "lc"}, "transform": [{"filter": "datum.k === 's'"}], "mark": {"type": "text", "align": "left", "baseline": "alphabetic", "font": "Liberation Sans", "fontSize": 10.5, "color": "#000", "clip": true}, "encoding": {"x": {"field": "t", "type": "quantitative"}, "y": {"field": "i", "type": "quantitative", "axis": null}, "text": {"field": "txt"}}},
{"data": {"name": "lc"}, "transform": [{"filter": "datum.k === 'p'"}], "mark": {"type": "text", "align": "center", "baseline": "middle", "font": "Liberation Sans", "fontSize": 21, "color": "#000", "clip": true}, "encoding": {"x": {"field": "t", "type": "quantitative"}, "y": {"field": "i", "type": "quantitative", "axis": null}, "text": {"field": "txt"}}}
]
}
]
}
